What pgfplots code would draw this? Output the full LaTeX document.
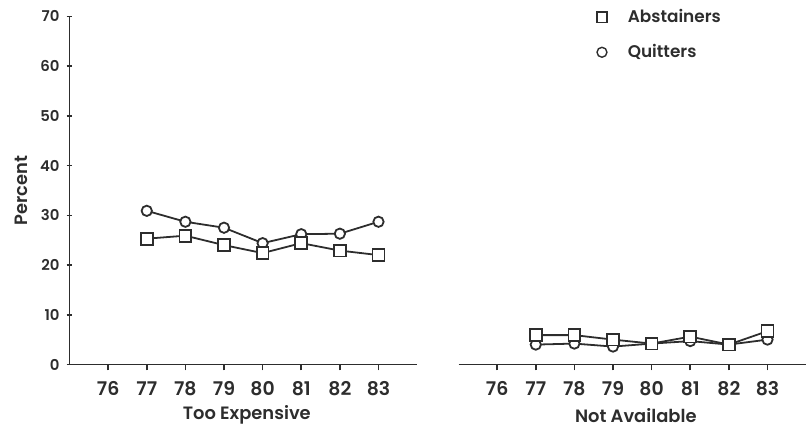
\documentclass[border=0pt]{standalone}
\usepackage{fontspec}
\setmainfont{Poppins}[UprightFont=* SemiBold]
\usepackage{pgfplots}
\pgfplotsset{compat=1.18}
\definecolor{ink}{RGB}{45,45,45}

\begin{document}
\begin{tikzpicture}
\pgfplotsset{
  panel/.style={
    scale only axis, width=175pt, height=175.25pt,
    xmin=75, xmax=84, ymin=0, ymax=70,
    axis x line=bottom,
    xtick={76,77,78,79,80,81,82,83},
    tick align=outside, major tick length=3pt,
    every tick/.style={ink, line width=0.8pt},
    /pgf/number format/assume math mode=true,
    xticklabel style={font=\fontsize{9.5}{10}\selectfont, text=ink, yshift=-2pt},
    every axis x label/.style={at={(axis description cs:0.51,0)}, yshift=-25.5pt, anchor=center, font=\fontsize{9}{10}\selectfont, text=ink},
  },
  lines/.style={axis line style={-, ink, line width=0.9pt}, x axis line style={-}, y axis line style={-},
    every outer y axis line/.append style={-}, every outer x axis line/.append style={-}},
  ser/.style={ink, line width=0.9pt, mark options={solid, fill=white, line width=0.9pt}},
}
\begin{axis}[panel,
  axis y line=left, lines,
  ytick={0,10,20,30,40,50,60,70},
  yticklabel style={font=\fontsize{7.5}{8}\selectfont, text=ink},
  ylabel={Percent},
  every axis y label/.style={at={(axis description cs:0,0.5)}, xshift=-24.5pt, rotate=90, anchor=center, font=\fontsize{9}{10}\selectfont, text=ink},
  xlabel={Too Expensive},
]
\addplot[ser, mark=*, mark size=2.6pt] coordinates {
(77,30.9) (78,28.7) (79,27.5) (80,24.4) (81,26.2) (82,26.3) (83,28.7)};
\addplot[ser, mark=square*, mark size=3pt] coordinates {
(77,25.3) (78,25.9) (79,24.0) (80,22.4) (81,24.4) (82,22.9) (83,22.0)};
\end{axis}

\begin{axis}[panel, at={(195.85pt,0pt)},
  axis y line=none, lines,
  xlabel={Not Available},
  legend image code/.code={\path[draw=none,fill=none] (0pt,0pt) rectangle (14pt,0pt); \draw[#1] plot coordinates {(3pt,0pt)};},
  legend style={at={(0.383,1.045)}, anchor=north west, draw=none, fill=none,
    font=\fontsize{8.5}{9}\selectfont, text=ink, row sep=5.5pt, inner xsep=2pt},
  legend cell align=left,
]
\addlegendimage{only marks, mark=square, mark size=2.6pt, ink, line width=0.7pt}
\addlegendentry{Abstainers}
\addlegendimage{only marks, mark=o, mark size=2.5pt, ink, line width=0.7pt}
\addlegendentry{Quitters}
\addplot[ser, mark=*, mark size=2.6pt, forget plot] coordinates {
(77,4.0) (78,4.2) (79,3.6) (80,4.2) (81,4.7) (82,4.0) (83,5.0)};
\addplot[ser, mark=square*, mark size=3pt, forget plot] coordinates {
(77,5.9) (78,5.9) (79,5.0) (80,4.2) (81,5.6) (82,4.0) (83,6.7)};
\end{axis}
\path[use as bounding box] (-35pt,-29pt) rectangle (368.5pt,183.5pt);
\end{tikzpicture}
\end{document}
